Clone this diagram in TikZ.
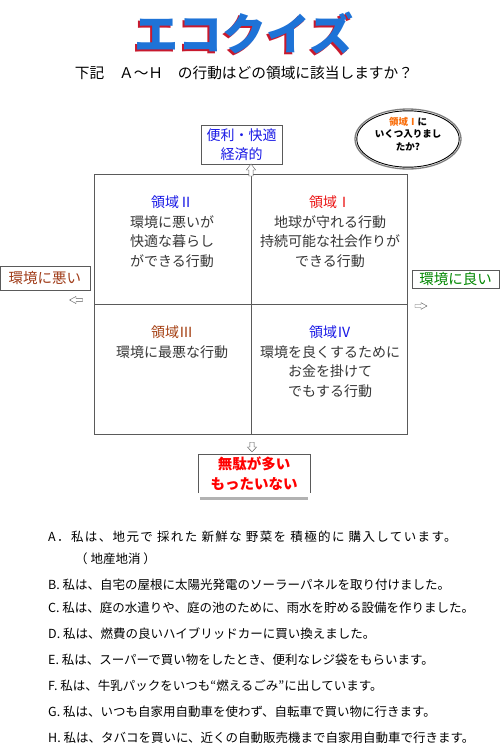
\documentclass[tikz,border=0pt]{standalone}
\usepackage{fontspec}
\setmainfont{Noto Sans CJK JP}
\usepackage{xcolor}
\usepackage{tikz}
\usetikzlibrary{positioning,calc}
\definecolor{ecoblue}{RGB}{30,115,215}
\definecolor{ecored}{RGB}{200,25,45}
\definecolor{zoneblue}{RGB}{25,25,230}
\definecolor{zonered}{RGB}{235,20,20}
\definecolor{zonebrown}{RGB}{165,65,20}
\definecolor{badbrown}{RGB}{160,60,25}
\definecolor{goodgreen}{RGB}{0,135,0}
\definecolor{framegray}{RGB}{90,90,90}
\definecolor{bodygray}{RGB}{55,55,55}
\definecolor{askorange}{RGB}{250,110,10}
\newcommand{\fs}[2]{\fontsize{#1}{#2}\selectfont}
\newcommand{\ecotitle}[1]{\makebox[0pt][l]{\textcolor{ecored}{#1}}\kern2pt\raisebox{2pt}{\textcolor{ecoblue}{#1}}}

\begin{document}
\begin{tikzpicture}[x=1pt,y=-1pt,
  zone/.style={align=center,inner sep=0pt,anchor=north,text=bodygray,font=\fs{14}{19.5}},
  tag/.style={draw=framegray,inner sep=0pt,align=center,font=\fs{14.5}{19}},
  stmt/.style={anchor=west,inner sep=0pt,font=\fs{12.5}{14}}]
\path[use as bounding box,fill=white] (0,0) rectangle (500,747);
% title
\node[font=\fs{44}{48}\bfseries] (title) at (243,34) {\ecotitle{エコクイズ}};
\node[font=\fs{14.7}{18}] (ask) at (244,73) {下記　Ａ～Ｈ　の行動はどの領域に該当しますか？};
% quadrants
\draw[framegray] (94,174) rectangle (407,434) (251,174)--(251,434) (94,304)--(407,304);
\node[zone] (q2) at (172,196) {\textcolor{zoneblue}{領域Ⅱ}\\環境に悪いが\\快適な暮らし\\ができる行動};
\node[zone] (q1) at (330,196) {\textcolor{zonered}{領域Ⅰ}\\地球が守れる行動\\持続可能な社会作りが\\できる行動};
\node[zone] (q3) at (172,326) {\textcolor{zonebrown}{領域Ⅲ}\\環境に最悪な行動};
\node[zone] (q4) at (330,326) {\textcolor{zoneblue}{領域Ⅳ}\\環境を良くするために\\お金を掛けて\\でもする行動};
% axis labels
\node[tag,text=zoneblue,minimum width=81,minimum height=39,font=\fs{14}{19}] (benri) at (241.5,144.5) {便利・快適\\経済的};
\node[tag,text=badbrown,minimum width=90,minimum height=24] (bad) at (45,278) {環境に悪い};
\node[tag,text=goodgreen,minimum width=87,minimum height=18] (good) at (455.5,279) {環境に良い};
\node[text=red,align=center,inner sep=0pt,minimum width=112,minimum height=39,font=\fs{14.5}{20}\bfseries] (muda) at (254,473.5) {無駄が多い\\もったいない};
\draw[framegray] (muda.south west) -- (muda.north west) -- (muda.north east) -- (muda.south east);
\draw[gray!60,line width=3] ([shift={(2,5)}]muda.south west) -- ([shift={(-2,5)}]muda.south east);
\foreach \x/\y/\r/\a/\b in {251/170/0/0.85/1, 252/447/180/0.85/0.8, 76/300/90/0.65/1.08, 421/306/-90/0.6/1}
  \draw[framegray,fill=white,shift={(\x,\y)},rotate=\r,xscale=\a,yscale=\b] (-2.5,6)--(-2.5,0)--(-5.5,0)--(0,-6)--(5.5,0)--(2.5,0)--(2.5,6)--cycle;
% hint bubble
\draw[gray,line width=1.3] (408,139) ellipse [x radius=53,y radius=30];
\draw[black,line width=0.9] (408,139) ellipse [x radius=51.2,y radius=28.2];
\node[align=center,inner sep=0pt,font=\fs{9.5}{12.5}\bfseries] (hint) at (408,134) {\textcolor{askorange}{領域Ⅰ}に\\いくつ入りまし\\たか?};
% statements
\node[stmt,font={\fs{12.5}{14}\addfontfeature{LetterSpace=11}}] (stA) at (48,537) {A．私は、地元で 採れた 新鮮な 野菜を 積極的に 購入しています。};
\node[stmt] (stA2) at (75,559) {（ 地産地消 ）};
\foreach \k/\y/\t in {B/585/私は、自宅の屋根に太陽光発電のソーラーパネルを取り付けました。,
  C/608/私は、庭の水遣りや、庭の池のために、雨水を貯める設備を作りました。,
  D/634/私は、燃費の良いハイブリッドカーに買い換えました。,
  E/660/私は、スーパーで買い物をしたとき、便利なレジ袋をもらいます。,
  F/686/私は、牛乳パックをいつも“燃えるごみ”に出しています。,
  G/712/私は、いつも自家用自動車を使わず、自転車で買い物に行きます。,
  H/738/私は、タバコを買いに、近くの自動販売機まで自家用自動車で行きます。}
  \node[stmt] (st\k) at (48,\y) {\k. \t};
\end{tikzpicture}
\end{document}
